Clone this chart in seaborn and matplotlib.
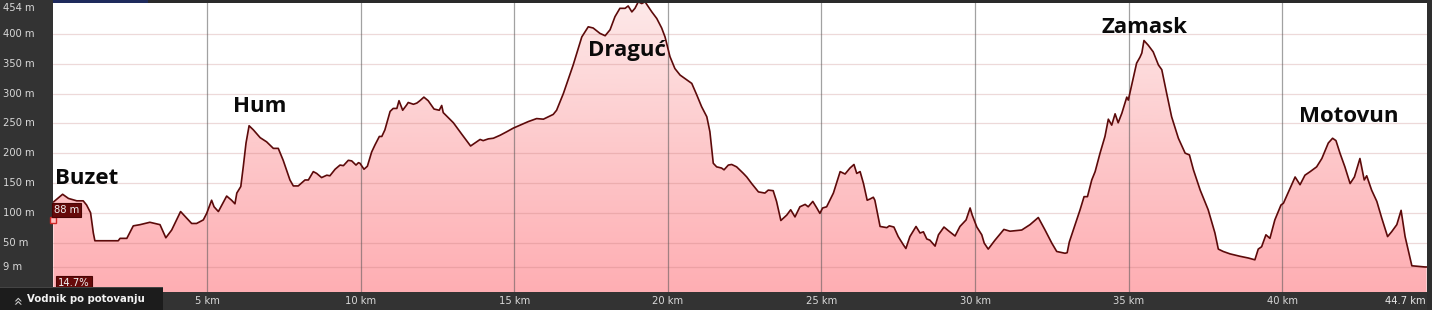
import numpy as np
import pandas as pd
import matplotlib
matplotlib.use("Agg")
import matplotlib.pyplot as plt
import matplotlib.transforms as mtransforms
from matplotlib.patches import Rectangle
from matplotlib.colors import LinearSegmentedColormap
import seaborn as sns

# ---------------- data ----------------
km = [0.00,0.30,0.49,0.76,0.97,1.08,1.21,1.30,1.35,2.11,2.17,2.39,2.60,2.82,3.14,3.47,3.66,3.85,4.14,4.34,4.50,4.66,4.88,4.99,5.15,5.23,5.37,5.64,5.80,5.91,5.97,6.10,6.18,6.27,6.37,6.51,6.73,6.94,7.16,7.32,7.48,7.70,
      7.81,7.97,8.19,8.30,8.46,8.57,8.73,8.90,9.00,9.17,9.33,9.44,9.60,9.71,9.85,9.93,9.98,10.11,10.22,10.36,10.47,10.61,10.69,10.79,10.96,11.06,11.18,11.25,11.37,11.50,11.55,11.72,11.83,11.93,12.06,12.20,12.39,12.56,12.64,12.69,13.02,13.29,13.58,13.72,13.89,13.99,14.16,14.32,14.54,14.76,14.97,15.19,
      15.46,15.73,15.95,16.27,16.38,16.60,16.92,17.20,17.41,17.57,17.79,17.96,18.12,18.28,18.44,18.61,18.71,18.83,18.93,19.04,19.15,19.26,19.31,19.48,19.64,19.80,19.91,20.07,20.23,20.40,20.62,20.78,20.94,21.10,21.27,21.37,21.48,21.59,21.75,21.83,21.97,22.08,22.24,22.46,
      22.57,22.73,22.95,23.16,23.27,23.43,23.54,23.68,23.87,24.00,24.14,24.30,24.47,24.57,24.72,24.85,24.95,25.04,25.17,25.39,25.61,25.77,25.93,26.06,26.15,26.26,26.37,26.49,26.58,26.69,26.74,26.91,27.13,27.21,27.36,27.50,27.67,27.75,27.88,28.08,28.21,28.32,28.43,28.53,28.70,28.81,28.99,29.13,29.35,29.51,29.71,29.84,29.91,30.06,30.22,30.30,30.43,
      30.65,30.94,31.14,31.52,31.79,32.06,32.28,32.50,32.66,32.93,33.00,33.07,33.20,33.42,33.55,33.66,33.80,33.91,34.07,34.23,34.34,34.45,34.56,34.66,34.78,34.94,34.99,35.15,35.26,35.37,35.43,35.50,35.64,35.80,35.97,36.08,36.24,36.40,36.62,36.84,36.98,37.11,37.33,37.59,37.81,37.92,
      38.08,38.30,38.62,38.90,39.11,39.22,39.33,39.47,39.60,39.76,39.96,40.04,40.23,40.42,40.58,40.74,40.91,41.07,41.12,41.29,41.50,41.64,41.75,41.88,42.04,42.21,42.35,42.53,42.67,42.75,42.91,43.08,43.24,43.43,43.56,43.73,43.87,44.00,44.22,44.65,44.70]

elev = [118,131,124,120,120,113,100,66,53,53,57,57,78,80,84,80,58,71,102,91,82,82,88,99,121,110,102,128,121,115,133,144,177,217,246,239,226,219,208,208,188,155,
        145,145,155,155,169,166,159,163,162,173,180,179,188,187,180,184,183,173,178,202,214,228,228,239,270,275,275,288,272,281,285,282,284,288,294,288,274,272,280,268,251,232,212,217,223,221,224,225,230,236,242,247,
        253,258,257,265,272,300,348,395,412,410,401,397,407,429,443,443,447,437,443,454,451,454,450,437,426,410,395,362,342,331,323,317,298,278,261,236,183,177,175,172,180,181,177,166,
        160,149,135,133,138,137,119,87,96,105,93,110,114,110,119,108,99,108,110,133,169,165,175,181,166,169,149,121,123,126,121,77,75,78,76,60,46,40,60,77,66,68,56,54,44,63,76,70,61,77,88,108,96,76,63,49,39,
        54,72,69,71,80,92,71,49,35,32,33,51,71,105,127,127,155,169,200,228,257,247,266,251,267,294,289,326,351,361,368,389,381,370,348,340,300,261,225,200,197,172,138,105,66,39,
        35,31,27,24,21,39,43,63,57,88,113,116,138,160,147,163,169,175,177,191,217,225,221,200,177,149,160,191,155,162,138,119,91,60,68,80,104,60,11,9,9]

place_names = ["Buzet", "Hum", "Draguć", "Zamask", "Motovun"]
place_km = [0.05, 6.72, 18.66, 35.52, 42.17]
place_elev = [158, 279, 373, 410, 262]
place_ha = ["left", "center", "center", "center", "center"]

y_ticks = [9, 50, 100, 150, 200, 250, 300, 350, 400]
y_top_label = "454 m"
x_ticks = [5, 10, 15, 20, 25, 30, 35, 40]
x_end = 44.7
hover_elev = 88
grade_text = "14.7%"

df = pd.DataFrame({"km": km, "elev": elev})

# ---------------- figure ----------------
W, H = 1432, 310
sns.set_style("white")
plt.rcParams["font.family"] = ["DejaVu Sans"]
fig = plt.figure(figsize=(W / 100, H / 100), dpi=100, facecolor="#333333")

ax_left, ax_right = 53.4, 1426.6
ax_top, ax_bot = 1.0, 292.0
ax = fig.add_axes([ax_left / W, (H - ax_bot) / H, (ax_right - ax_left) / W, (ax_bot - ax_top) / H])
ax.set_facecolor("white")
ymin, ymax = -33, 455.3
ax.set_xlim(0, x_end)
ax.set_ylim(ymin, ymax)

# gradient area fill
fill = ax.fill_between(df["km"], df["elev"], ymin, facecolor="none", edgecolor="none", zorder=1)
grad = np.linspace(0, 1, 256).reshape(-1, 1)
cmap = LinearSegmentedColormap.from_list("pinkgrad", ["#ffaeb3", "#fdc9cb", "#fde9e9"])
im = ax.imshow(grad, extent=[0, x_end, ymin, ymax], origin="lower", aspect="auto",
               cmap=cmap, zorder=1, interpolation="bilinear")
im.set_clip_path(fill.get_paths()[0], transform=ax.transData)

# grid lines
for yv in y_ticks:
    ax.axhline(yv, color="#c07878", alpha=0.28, lw=0.9, zorder=2)
for xv in x_ticks:
    ax.axvline(xv, color="#555555", alpha=0.55, lw=0.9, zorder=2)

# profile line
sns.lineplot(data=df, x="km", y="elev", ax=ax, color="#5c0a0a", lw=1.2,
             sort=False, estimator=None, zorder=4)

ax.set_xticks([])
ax.set_yticks([])
ax.set_xlabel("")
ax.set_ylabel("")
for s in ax.spines.values():
    s.set_visible(False)

# place labels
for name, xk, ye, ha in zip(place_names, place_km, place_elev, place_ha):
    ax.text(xk, ye, name, ha=ha, va="center", fontsize=16, fontweight="bold",
            family=["Open Sans", "DejaVu Sans"], color="#0a0a0a", zorder=6)

# y axis labels in left panel
ty = mtransforms.blended_transform_factory(fig.transFigure, ax.transData)
for yv in y_ticks:
    ax.text(3 / W, yv, f"{yv} m", transform=ty, ha="left", va="center",
            fontsize=7.2, color="#d8d8d8", clip_on=False)
fig.text(3 / W, (H - 8) / H, y_top_label, ha="left", va="center", fontsize=7.2, color="#d8d8d8")

# x axis labels in bottom strip
tx = mtransforms.blended_transform_factory(ax.transData, fig.transFigure)
for xv in x_ticks:
    ax.text(xv, (H - 301) / H, f"{xv} km", transform=tx, ha="center", va="center",
            fontsize=7.2, color="#d8d8d8", clip_on=False)
ax.text(x_end - 0.02, (H - 301) / H, f"{x_end} km", transform=tx, ha="right", va="center",
        fontsize=7.2, color="#e8e8e8", clip_on=False)

# hover marker and value box
ax.plot([0], [hover_elev], marker="s", ms=4.5, mfc="#ffc0c0", mec="#d02828", mew=1,
        clip_on=False, zorder=7)
ax.text(0.02, 105, f"{hover_elev} m", ha="left", va="center", fontsize=7.2, color="#f0f0f0",
        zorder=8, bbox=dict(boxstyle="square,pad=0.2", fc="#650a0a", ec="#4a0505", lw=0.8))

# top strip and navy bar
fig.patches.append(Rectangle((ax_left / W, (H - 3) / H), (ax_right - ax_left) / W, 3 / H,
                             transform=fig.transFigure, fc="#2a2a2a", ec="none", zorder=10))
fig.patches.append(Rectangle((ax_left / W, (H - 2.5) / H), (148 - ax_left) / W, 2.5 / H,
                             transform=fig.transFigure, fc="#1e2a5c", ec="none", zorder=11))
# right border
fig.patches.append(Rectangle((ax_right / W, 0), (W - ax_right) / W, 1,
                             transform=fig.transFigure, fc="#2e2e2e", ec="none", zorder=10))

# grade box
fig.text(58 / W, (H - 283) / H, grade_text, ha="left", va="center", fontsize=7.2, color="#f0f0f0",
         zorder=12, bbox=dict(boxstyle="square,pad=0.25", fc="#650a0a", ec="#4a0505", lw=0.8))

# guide bar bottom-left
fig.patches.append(Rectangle((0, 0), 163 / W, 23 / H, transform=fig.transFigure,
                             fc="#1c1c1c", ec="none", zorder=13))
fig.patches.append(Rectangle((0, 22 / H), 163 / W, 1 / H, transform=fig.transFigure,
                             fc="#444444", ec="none", zorder=14))
fig.text(18 / W, (H - 299) / H, "»", rotation=90, ha="center", va="center", fontsize=11,
         color="#cfcfcf", zorder=15)
fig.text(27 / W, (H - 299) / H, "Vodnik po potovanju", ha="left", va="center", fontsize=7.3,
         fontweight="bold", color="#f2f2f2", zorder=15)

fig.savefig("out.png", dpi=100, facecolor=fig.get_facecolor())
